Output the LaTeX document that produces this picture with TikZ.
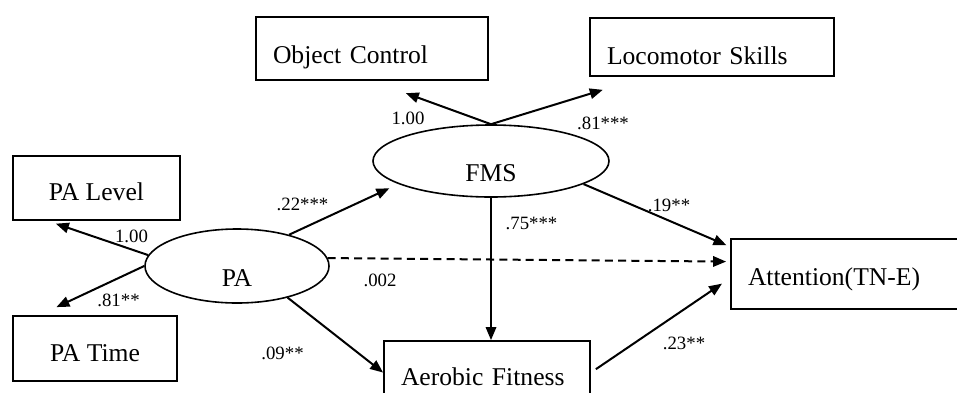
\documentclass[tikz,border=0pt]{standalone}
\usepackage{fontspec}
\setmainfont{Liberation Serif}
\usetikzlibrary{arrows.meta, shapes.geometric, positioning}
\tikzset{
	varbox/.style ={rectangle, draw=black, line width=0.9pt, font=\fontsize{12.8}{14}\selectfont, inner xsep=8.5pt, inner ysep=0pt, text depth=0pt},
	latent/.style ={ellipse, draw=black, line width=0.8pt, font=\fontsize{12.8}{14}\selectfont, inner sep=0pt, text height=20.5pt, text depth=0pt},
	coef/.style   ={font=\fontsize{9.4}{11}\selectfont, inner sep=0pt},
	effect/.style ={-{Triangle[length=6.5pt, width=5.2pt]}, line width=1pt},
}

\begin{document}
\begin{tikzpicture}[x=0.5pt, y=-0.5pt]
	\useasboundingbox (0,0) rectangle (957,392);
	\clip (0,0) rectangle (957,392);
	% latent variables
	\node[latent, minimum width=92pt, minimum height=37pt] (pa) at (237,266) {PA};
	\node[latent, minimum width=118pt, minimum height=36pt] (fms) at (491,161) {FMS};
	% observed variables
	\node[varbox, align=left, text width=99pt, minimum height=31.5pt, text height=14.5pt] (oc) at (372,48.5) {Object Control};
	\node[varbox, align=left, text width=105pt, minimum height=29pt, text height=17pt] (lm) at (712,47) {Locomotor Skills};
	\node[varbox, minimum width=83.5pt, minimum height=32pt, text height=12pt] (pal) at (96.5,188) {PA Level};
	\node[varbox, minimum width=82pt, minimum height=32.5pt, text height=13pt] (pat) at (95,348.5) {PA Time};
	\node[varbox, align=left, text width=100pt, minimum height=35pt, text height=11.5pt] (att) at (848,274) {Attention(TN-E)};
	\node[varbox, align=left, text width=86pt, minimum height=37pt, text height=7.5pt] (aer) at (487,378) {Aerobic Fitness};
	% loadings
	\draw[effect, shorten >=18pt] (fms.north) -- (oc.south);
	\draw[effect, shorten >=22pt] (fms.north) -- (lm.204);
	\draw[effect, shorten >=4.3pt] (pa.173) -- (pal.214);
	\draw[effect, shorten >=9.4pt] (pa.west) -- (pat.149);
	% paths
	\draw[effect, shorten >=5pt] (pa.31) -- (fms.194);
	\draw[effect, dash pattern=on 4pt off 2.6pt, shorten >=2pt] (pa.5) -- (att.174);
	\draw[effect] (pa.-32) -- (aer.177);
	\draw[effect] (fms.south) -- (fms.south |- aer.north);
	\draw[effect, shorten >=2pt] (fms.-14) -- (att.167);
	\draw[effect, shorten <=3pt, shorten >=4.9pt] (aer.3) -- (att.182);
	% coefficients
	\node[coef] (c-oc) at (408,118.5) {1.00};
	\node[coef] (c-lm) at (603,123.5) {.81***};
	\node[coef] (c-pal) at (131.5,236) {1.00};
	\node[coef] (c-pat) at (118.5,300.5) {.81**};
	\node[coef] (c-fms) at (302.5,204) {.22***};
	\node[coef] (c-att) at (380,280) {.002};
	\node[coef] (c-aer) at (282.5,353.5) {.09**};
	\node[coef] (c-fa) at (531.5,223.5) {.75***};
	\node[coef] (c-fatt) at (669,205.5) {.19**};
	\node[coef] (c-aatt) at (684,343.5) {.23**};
\end{tikzpicture}
\end{document}
